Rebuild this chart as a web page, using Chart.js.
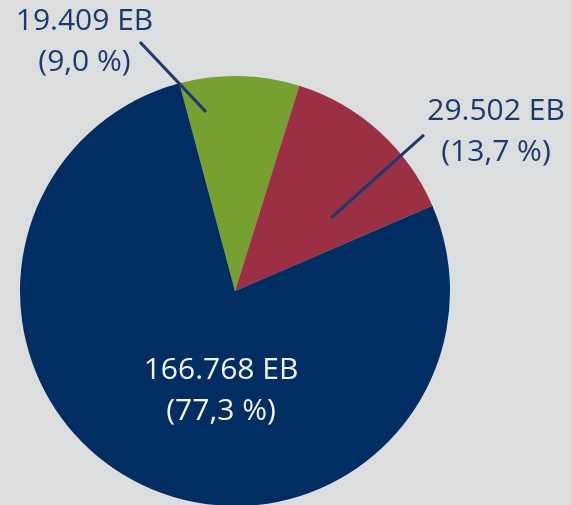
<!DOCTYPE html>
<html>
<head>
<meta charset="utf-8">
<script src="https://cdn.jsdelivr.net/npm/chart.js@4"></script>
<style>
  html, body { margin: 0; padding: 0; background: #dcdddf; overflow: hidden; }
  #wrap { position: absolute; left: 0; top: 0; width: 571px; height: 520px; }
</style>
</head>
<body>
<div id="wrap"><canvas id="c"></canvas></div>
<script>
// ---- data ----
const categories = ["A", "B", "C"];
const valuesEB = [19409, 29502, 166768];
const valueLabels = ["19.409 EB", "29.502 EB", "166.768 EB"];
const percentLabels = ["(9,0 %)", "(13,7 %)", "(77,3 %)"];
const sliceColors = ["#76a030", "#9b2f43", "#002d62"];

// ---- label layout (offsets in units of radius from the pie centre) ----
const labelLayout = [
  { text: [-0.70, -1.16], color: "#1c3a6c", line: [[-0.442, -1.158], [-0.135, -0.833]] },
  { text: [1.214, -0.742], color: "#1c3a6c", line: [[0.879, -0.726], [0.447, -0.340]] },
  { text: [-0.065, 0.463], color: "#f2f3f5", line: null }
];

const labelPlugin = {
  id: "labels",
  afterDatasetsDraw(chart) {
    const ctx = chart.ctx;
    const meta = chart.getDatasetMeta(0);
    meta.data.forEach((arc, i) => {
      const cx = arc.x, cy = arc.y, r = arc.outerRadius;
      const L = labelLayout[i];
      ctx.save();
      if (L.line) {
        ctx.strokeStyle = "#1c3a6c";
        ctx.lineWidth = 3;
        ctx.beginPath();
        ctx.moveTo(cx + L.line[0][0] * r, cy + L.line[0][1] * r);
        ctx.lineTo(cx + L.line[1][0] * r, cy + L.line[1][1] * r);
        ctx.stroke();
      }
      ctx.fillStyle = L.color;
      ctx.font = "500 30px 'Open Sans', sans-serif";
      ctx.textAlign = "center";
      ctx.textBaseline = "middle";
      const tx = cx + L.text[0] * r, ty = cy + L.text[1] * r;
      ctx.fillText(valueLabels[i], tx, ty - 20);
      ctx.fillText(percentLabels[i], tx, ty + 21);
      ctx.restore();
    });
  }
};

new Chart(document.getElementById("c"), {
  type: "pie",
  data: {
    labels: categories,
    datasets: [{
      data: valuesEB,
      backgroundColor: sliceColors,
      borderWidth: 0
    }]
  },
  options: {
    responsive: true,
    maintainAspectRatio: false,
    animation: false,
    rotation: -15,
    layout: { padding: { left: 20, right: 121, top: 76, bottom: 14 } },
    plugins: { legend: { display: false }, tooltip: { enabled: false } }
  },
  plugins: [labelPlugin]
});
</script>
</body>
</html>
